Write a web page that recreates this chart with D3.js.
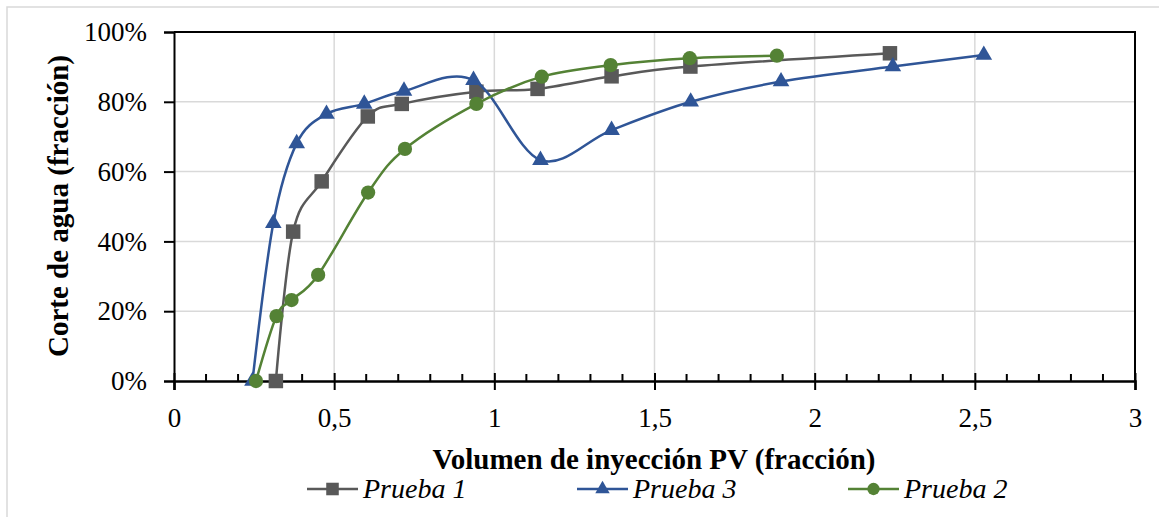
<!DOCTYPE html>
<html><head><meta charset="utf-8">
<script src="https://cdn.jsdelivr.net/npm/d3@7"></script>
<style>body{margin:0;background:#fff}svg{display:block}</style>
</head><body>
<svg id="c" width="1159" height="517"></svg>
<script>
// Data (x = PV fraction, y = water cut %)
const seriesNames = ["Prueba 1", "Prueba 3", "Prueba 2"];
const p1x = [0.318, 0.372, 0.461, 0.605, 0.711, 0.944, 1.135, 1.366, 1.612, 2.235];
const p1y = [0, 42.8, 57.2, 75.8, 79.4, 82.9, 83.7, 87.3, 90.1, 93.9];
const p3x = [0.245, 0.31, 0.383, 0.476, 0.594, 0.718, 0.935, 1.144, 1.366, 1.613, 1.895, 2.244, 2.528];
const p3y = [0, 45.2, 68.1, 76.5, 79.4, 83.1, 86.2, 63.3, 71.9, 80.0, 85.8, 90.1, 93.4];
const p2x = [0.256, 0.320, 0.367, 0.450, 0.606, 0.721, 0.944, 1.148, 1.363, 1.610, 1.882];
const p2y = [0, 18.6, 23.2, 30.4, 54.0, 66.5, 79.4, 87.2, 90.5, 92.5, 93.2];
const xTicks = [0, 0.5, 1, 1.5, 2, 2.5, 3];
const yTicks = [0, 20, 40, 60, 80, 100];
const xTitle = "Volumen de inyección PV (fracción)";
const yTitle = "Corte de agua (fracción)";

const colors = {"Prueba 1": "#595959", "Prueba 3": "#2F5597", "Prueba 2": "#548235"};
const symbols = {"Prueba 1": d3.symbolSquare, "Prueba 3": d3.symbolTriangle, "Prueba 2": d3.symbolCircle};
const symSize = {"Prueba 1": 210, "Prueba 3": 120, "Prueba 2": 160};
const data = {
  "Prueba 1": p1x.map((x, i) => [x, p1y[i]]),
  "Prueba 3": p3x.map((x, i) => [x, p3y[i]]),
  "Prueba 2": p2x.map((x, i) => [x, p2y[i]])
};
const drawOrder = ["Prueba 1", "Prueba 3", "Prueba 2"];

const svg = d3.select("#c");
const serif = "'Liberation Serif','Times New Roman',serif";
const L = 174, R = 1135, T = 32, B = 381;
const x = d3.scaleLinear().domain([0, 3]).range([L, R]);
const y = d3.scaleLinear().domain([0, 100]).range([B, T]);

// outer border (cropped on right/bottom)
svg.append("rect").attr("x", 7).attr("y", 7).attr("width", 1200).attr("height", 600)
  .attr("fill", "none").attr("stroke", "#d9d9d9").attr("stroke-width", 1.5);

// gridlines
svg.append("g").selectAll("line").data(xTicks.filter(d => d > 0 && d < 3)).join("line")
  .attr("x1", d => x(d)).attr("x2", d => x(d)).attr("y1", T).attr("y2", B)
  .attr("stroke", "#d9d9d9").attr("stroke-width", 1.5);
svg.append("g").selectAll("line").data(yTicks.filter(d => d > 0 && d < 100)).join("line")
  .attr("x1", L).attr("x2", R).attr("y1", d => y(d)).attr("y2", d => y(d))
  .attr("stroke", "#d9d9d9").attr("stroke-width", 1.5);

// top and right frame
svg.append("line").attr("x1", L).attr("x2", R + 1).attr("y1", T).attr("y2", T).attr("stroke", "#000").attr("stroke-width", 2);
svg.append("line").attr("x1", R).attr("x2", R).attr("y1", T).attr("y2", B).attr("stroke", "#000").attr("stroke-width", 2);

// y axis
const yAxis = d3.axisLeft(y).tickValues(yTicks).tickFormat(d => d + "%").tickSize(10).tickPadding(17);
const gy = svg.append("g").attr("transform", `translate(${L},0)`).call(yAxis);
gy.select(".domain").attr("stroke", "#000").attr("stroke-width", 2);
gy.selectAll(".tick line").attr("stroke", "#000").attr("stroke-width", 2);
gy.selectAll("text").attr("font-family", serif).attr("font-size", 27).attr("fill", "#000");

// x axis: minor ticks (inside), major ticks crossing
const minor = d3.range(1, 30).map(i => i / 10).filter(v => Math.abs(v * 2 - Math.round(v * 2)) > 1e-6);
svg.append("g").selectAll("line").data(minor).join("line")
  .attr("x1", d => x(d)).attr("x2", d => x(d)).attr("y1", B).attr("y2", B - 7)
  .attr("stroke", "#000").attr("stroke-width", 2);
const xAxis = d3.axisBottom(x).tickValues(xTicks).tickFormat(d => String(d).replace(".", ",")).tickSize(9).tickPadding(18);
const gx = svg.append("g").attr("transform", `translate(0,${B})`).call(xAxis);
gx.select(".domain").attr("stroke", "#000").attr("stroke-width", 2.5);
gx.selectAll(".tick line").attr("stroke", "#000").attr("stroke-width", 2).attr("y1", -8);
gx.selectAll("text").attr("font-family", serif).attr("font-size", 27).attr("fill", "#000");

// axis titles
svg.append("text").attr("x", 654).attr("y", 469).attr("text-anchor", "middle")
  .attr("font-family", serif).attr("font-weight", "bold").attr("font-size", 29).text(xTitle);
svg.append("text").attr("transform", "translate(68,206) rotate(-90)").attr("text-anchor", "middle")
  .attr("font-family", serif).attr("font-weight", "bold").attr("font-size", 29).text(yTitle);

// series
const line = d3.line().x(d => x(d[0])).y(d => y(d[1])).curve(d3.curveCardinal.tension(0));
const plot = svg.append("g");
drawOrder.forEach(name => {
  const g = plot.append("g");
  g.append("path").attr("d", line(data[name])).attr("fill", "none")
    .attr("stroke", colors[name]).attr("stroke-width", 2.5);
  g.selectAll("path.m").data(data[name]).join("path").attr("class", "m")
    .attr("transform", d => `translate(${x(d[0])},${y(d[1])})`)
    .attr("d", d3.symbol().type(symbols[name]).size(symSize[name]))
    .attr("fill", colors[name]);
});

// legend
const legendX = [307, 577, 848];
const lg = svg.append("g");
seriesNames.forEach((name, i) => {
  const lx = legendX[i], ly = 489;
  lg.append("line").attr("x1", lx).attr("x2", lx + 51).attr("y1", ly).attr("y2", ly)
    .attr("stroke", colors[name]).attr("stroke-width", 2.5);
  lg.append("path").attr("transform", `translate(${lx + 25.5},${ly})`)
    .attr("d", d3.symbol().type(symbols[name]).size(symSize[name] * 0.75)).attr("fill", colors[name]);
  lg.append("text").attr("x", lx + 56).attr("y", ly + 9).attr("font-family", serif)
    .attr("font-style", "italic").attr("font-size", 28).text(name);
});
</script>
</body></html>
